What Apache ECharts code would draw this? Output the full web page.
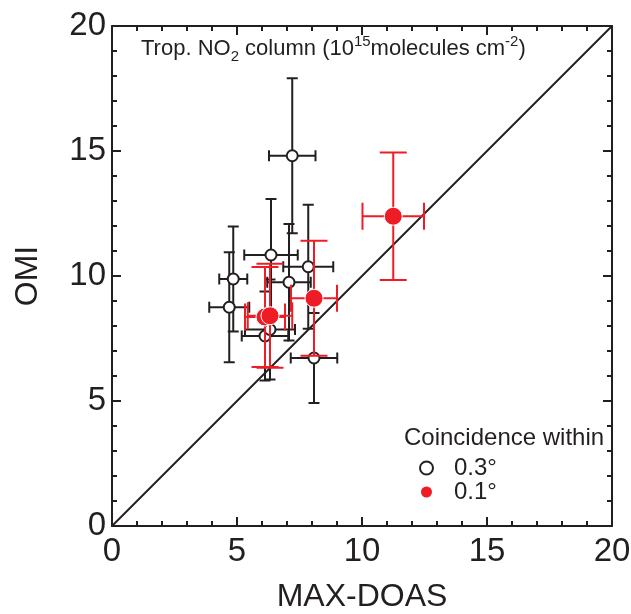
<!DOCTYPE html>
<html><head><meta charset="utf-8">
<script src="https://cdn.jsdelivr.net/npm/echarts@6/dist/echarts.min.js"></script>
<style>html,body{margin:0;padding:0;background:#fff}#c{width:631px;height:614px}</style>
</head><body><div id="c"></div>
<script>
// Coincidence within 0.3° (open black circles)
const xs03 = [7.21, 6.36, 7.85, 7.08, 4.85, 4.69, 8.08, 6.12, 6.32];
const ys03 = [14.81, 10.84, 10.37, 9.75, 9.88, 8.75, 6.72, 7.60, 7.86];
const xe03 = [0.93, 1.07, 1.00, 0.87, 0.56, 0.80, 0.93, 0.93, 1.00];
const ye03 = [3.10, 2.24, 2.48, 2.33, 2.10, 2.20, 1.80, 1.78, 2.00];
// Coincidence within 0.1° (filled red circles)
const xs01 = [11.25, 8.08, 6.12, 6.32];
const ys01 = [12.39, 9.11, 8.36, 8.41];
const xe01 = [1.23, 0.92, 0.80, 0.89];
const ye01 = [2.55, 2.30, 2.00, 2.08];
const diag = [[0, 0], [20, 20]];
const tickLabels = [0, 5, 10, 15, 20];

const INK = '#231f20', RED = '#ee1c25';
const FONT = 'Liberation Sans, Arial, sans-serif';

function errData(xs, ys, xe, ye) { return xs.map((x, i) => [x, ys[i], xe[i], ye[i]]); }
function errRender(color, cap) {
  return function (params, api) {
    const x = api.value(0), y = api.value(1), dx = api.value(2), dy = api.value(3);
    const L = api.coord([x - dx, y]), R = api.coord([x + dx, y]);
    const T = api.coord([x, y + dy]), B = api.coord([x, y - dy]);
    const st = { stroke: color, lineWidth: 2 };
    const ln = (a, b, c, d) => ({ type: 'line', shape: { x1: a, y1: b, x2: c, y2: d }, style: st });
    return { type: 'group', children: [
      ln(L[0], L[1], R[0], R[1]), ln(T[0], T[1], B[0], B[1]),
      ln(L[0], L[1] - cap, L[0], L[1] + cap), ln(R[0], R[1] - cap, R[0], R[1] + cap),
      ln(T[0] - cap, T[1], T[0] + cap, T[1]), ln(B[0] - cap, B[1], B[0] + cap, B[1])
    ]};
  };
}
function axisBase(pos, labels) {
  return {
    type: 'value', min: 0, max: 20, interval: 5, position: pos,
    axisLine: { show: true, onZero: false, lineStyle: { color: INK, width: 2 } },
    axisTick: { show: true, inside: true, length: 9, lineStyle: { color: INK, width: 2 } },
    minorTick: { show: true, splitNumber: 5, length: 5, lineStyle: { color: INK, width: 2 } },
    splitLine: { show: false },
    axisLabel: labels ? { margin: pos === 'left' ? 6 : 9, fontFamily: FONT, fontSize: 33, color: INK,
      formatter: v => tickLabels.includes(v) ? String(v) : '' } : { show: false }
  };
}
const xMain = Object.assign(axisBase('bottom', true), {
  name: 'MAX-DOAS', nameLocation: 'middle', nameGap: 55,
  nameTextStyle: { fontFamily: FONT, fontSize: 32, color: INK } });
const yMain = Object.assign(axisBase('left', true), {
  name: 'OMI', nameLocation: 'middle', nameGap: 68, nameRotate: 90,
  nameTextStyle: { fontFamily: FONT, fontSize: 32, color: INK } });

const chart = echarts.init(document.getElementById('c'));
chart.setOption({
  animation: false,
  backgroundColor: '#fff',
  title: {
    text: 'Trop. NO{sub|2} column (10{sup|15}molecules cm{sup|-2})',
    left: 136, top: 29,
    textStyle: { fontFamily: FONT, fontSize: 22, fontWeight: 'normal', color: INK, lineHeight: 30,
      rich: {
        sub: { fontFamily: FONT, fontSize: 15, color: INK, verticalAlign: 'bottom', lineHeight: 15 },
        sup: { fontFamily: FONT, fontSize: 15, color: INK, verticalAlign: 'top', lineHeight: 15 }
      } }
  },
  legend: {
    orient: 'vertical', left: 414, top: 451, itemGap: 0, itemWidth: 13, itemHeight: 13,
    data: ['0.3°', '0.1°'],
    textStyle: { fontFamily: FONT, fontSize: 24, color: INK, padding: [0, 0, 0, 16] }
  },
  graphic: [{ type: 'text', left: 404, top: 426,
    style: { text: 'Coincidence within', fontFamily: FONT, fontSize: 24, fill: INK } }],
  grid: { left: 112, top: 26, width: 500, height: 500, containLabel: false, outerBoundsMode: 'none' },
  xAxis: [xMain, axisBase('top', false)],
  yAxis: [yMain, axisBase('right', false)],
  series: [
    { type: 'line', data: diag, symbol: 'none', lineStyle: { color: INK, width: 2 }, silent: true, z: 1 },
    { type: 'custom', data: errData(xs03, ys03, xe03, ye03), renderItem: errRender(INK, 5.5), z: 2 },
    { name: '0.3°', type: 'scatter', data: xs03.map((x, i) => [x, ys03[i]]), symbol: 'circle', symbolSize: 11,
      itemStyle: { color: '#fff', borderColor: INK, borderWidth: 2, opacity: 1 }, z: 3 },
    { type: 'custom', data: errData(xs01, ys01, xe01, ye01), renderItem: errRender(RED, 13.5), z: 4 },
    { name: '0.1°', type: 'scatter', data: xs01.map((x, i) => [x, ys01[i]]), symbol: 'circle', symbolSize: 18,
      itemStyle: { color: RED, borderColor: '#fff', borderWidth: 1, opacity: 1 }, z: 5 }
  ]
});
</script></body></html>
